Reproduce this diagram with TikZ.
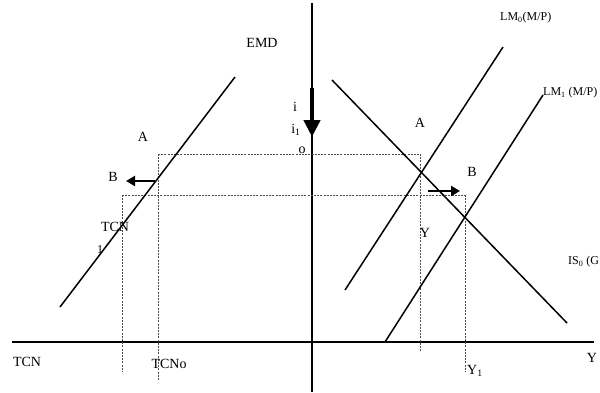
\documentclass[tikz,border=0pt]{standalone}
\usepackage{fontspec}
\setmainfont{Liberation Serif}
\usetikzlibrary{arrows.meta}

\begin{document}
\begin{tikzpicture}[
    x=1pt, y=-1pt,
    every node/.style={font=\fontsize{14}{16}\selectfont, inner sep=0pt},
    curve/.style={line width=1.5pt},
    axisline/.style={line width=2.2pt},
    guide/.style={line width=0.8pt, dash pattern=on 2pt off 1.2pt, black!70},
    shiftarrow/.style={line width=2.6pt, -{Triangle[length=9pt, width=10pt]}},
    small/.style={font=\fontsize{12}{14}\selectfont}
]
\useasboundingbox (0,0) rectangle (600,392);

% --- Points: (name, x, y) in pixels of the sheet
\foreach \n/\x/\y in {%
    emdlo/60/307,  emdhi/235/77,
    islo/567/323,  ishi/332/80,
    lmalo/345/290, lmahi/503/47,
    lmblo/385/342, lmbhi/543/95,
    xleft/12/342,  xright/594/342,
    ytop/312/3,    ybot/312/392,
    ia/312/88,     ib/312/137,
    bla/155/181,   blb/126/181,
    bra/428/191,   brb/460/191,
    gAl/158/154,   gAr/420/154,
    gBl/122/195,   gBr/465/195,
    gAlb/158/380,  gBlb/122/372,
    gArb/420/352,  gBrb/465/372
} \coordinate (\n) at (\x,\y);

% Axes
\draw[axisline] (xleft) -- (xright);
\draw[line width=1.6pt] (ytop) -- (ybot);
\draw[line width=4.5pt, -{Triangle[length=17pt, width=16pt]}] (ia) -- (ib);

% Dotted guides
\draw[guide] (gAl) -- (gAr);
\draw[guide] (gBl) -- (gBr);
\draw[guide] (gAl) -- (gAlb);
\draw[guide] (gBl) -- (gBlb);
\draw[guide] (gAr) -- (gArb);
\draw[guide] (gBr) -- (gBrb);

% Curves
\draw[curve] (emdlo) -- (emdhi);
\draw[curve] (islo) -- (ishi);
\draw[curve] (lmalo) -- (lmahi);
\draw[curve] (lmblo) -- (lmbhi);

% Shift arrows
\draw[shiftarrow] (bla) -- (blb);
\draw[shiftarrow] (bra) -- (brb);

% Labels (name, x, y, text)
\foreach \n/\x/\y/\lab in {%
    emd/262/43/EMD,
    al/143/137/A,   bl/113/177/B,
    tcn/115/227/TCN,
    ar/420/123/A,   br/472/172/B,
    ylab/425/233/Y,
    tcnb/27/362/TCN, tcno/169/364/TCNo,
    yone/475/371/{Y\textsubscript{1}},
    yax/592/358/Y,
    i/295/107/i,    ione/296/130/{i\textsubscript{1}},
    o/302/150/o}
  \node (lab\n) at (\x,\y) {\lab};

\node[small] (labone) at (100,250) {1};
\node[small, anchor=west] (lablma) at (500,18) {LM\textsubscript{0}(M/P)};
\node[small, anchor=west] (lablmb) at (543,93) {LM\textsubscript{1} (M/P)};
\node[small, anchor=west] (labis) at (568,262) {IS\textsubscript{0} (G};
\end{tikzpicture}
\end{document}
